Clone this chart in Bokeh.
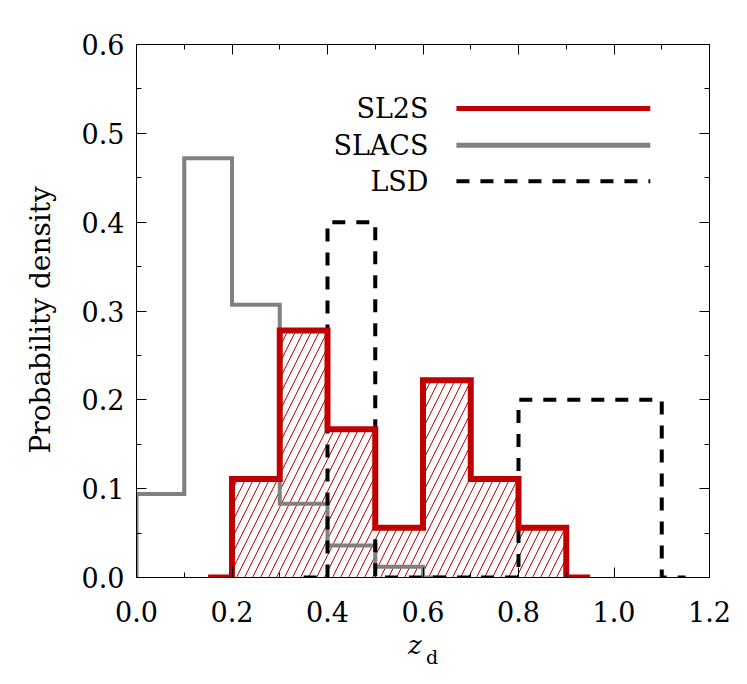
import numpy as np
from bokeh.plotting import figure
from bokeh.models import Label, LinearAxis, Range1d, FixedTicker, NumeralTickFormatter
from bokeh.embed import file_html
from bokeh.resources import INLINE

# ---------------- data ----------------
bin_width = 0.1
sl2s_start = 0.2
sl2s_density = [0.111, 0.278, 0.167, 0.056, 0.222, 0.111, 0.056]
slacs_start = 0.0
slacs_density = [0.094, 0.472, 0.307, 0.083, 0.036, 0.012]
lsd_start = 0.4
lsd_density = [0.4, 0.0, 0.0, 0.0, 0.2, 0.2, 0.2]

legend_names = ["SL2S", "SLACS", "LSD"]
x_ticks = [0.0, 0.2, 0.4, 0.6, 0.8, 1.0, 1.2]
y_ticks = [0.0, 0.1, 0.2, 0.3, 0.4, 0.5, 0.6]

# ---------------- styles ----------------
RED = "#c00000"
GREY = "#808080"
BLACK = "#000000"
FONT = "DejaVu Serif"
NBSP = "\u00a0"


def edges_of(start, dens, w=bin_width):
    return [start + i * w for i in range(len(dens) + 1)]


def step_path(start, dens, w=bin_width):
    e = edges_of(start, dens, w)
    xs = [start - w / 2, start]
    ys = [0.0, 0.0]
    for i, d in enumerate(dens):
        xs += [e[i], e[i + 1]]
        ys += [d, d]
    xs += [e[-1], e[-1] + w / 2]
    ys += [0.0, 0.0]
    return xs, ys


p = figure(width=747, height=684, x_range=Range1d(0, 1.2), y_range=Range1d(0, 0.6),
           output_backend="svg", toolbar_location=None,
           min_border_left=136, min_border_right=38, min_border_top=44, min_border_bottom=107,
           x_axis_location=None, y_axis_location=None)
p.background_fill_color = "white"
p.border_fill_color = "white"
p.outline_line_color = "black"
p.outline_line_width = 1
p.grid.visible = False


def make_axis(ticks, show_labels):
    step = (ticks[1] - ticks[0]) / 2
    minors = [round(ticks[0] + i * step, 3) for i in range(2 * (len(ticks) - 1) + 1)]
    ax = LinearAxis(ticker=FixedTicker(ticks=ticks, minor_ticks=minors))
    ax.axis_line_color = "black"
    ax.major_tick_in = 10
    ax.major_tick_out = 0
    ax.minor_tick_in = 5
    ax.minor_tick_out = 0
    ax.major_tick_line_color = "black"
    ax.minor_tick_line_color = "black"
    ax.major_label_text_font = FONT
    ax.major_label_text_color = "black"
    ax.major_label_text_font_size = "27px"
    if show_labels:
        ax.formatter = NumeralTickFormatter(format="0.0")
    else:
        ax.major_label_overrides = {t: "" for t in ticks}
    return ax


xb = make_axis(x_ticks, True)
xb.major_label_standoff = 23
xb.axis_label = "z" + NBSP * 2
xb.axis_label_text_font = FONT
xb.axis_label_text_font_size = "26px"
xb.axis_label_text_font_style = "italic"
xb.axis_label_text_color = "black"
xb.axis_label_standoff = 5

yl = make_axis(y_ticks, True)
yl.major_label_standoff = 12
yl.axis_label = "Probability density" + NBSP * 2
yl.axis_label_text_font = FONT
yl.axis_label_text_font_size = "28px"
yl.axis_label_text_font_style = "normal"
yl.axis_label_text_color = "black"
yl.axis_label_standoff = 22

xt = make_axis(x_ticks, False)
yr = make_axis(y_ticks, False)
p.add_layout(xb, "below")
p.add_layout(yl, "left")
p.add_layout(xt, "above")
p.add_layout(yr, "right")

# subscript "d" of the x-axis label, carried by a tick-less axis beneath
xsub = LinearAxis(ticker=FixedTicker(ticks=[]), axis_line_color=None,
                  major_tick_line_color=None, minor_tick_line_color=None)
xsub.axis_label = NBSP * 3 + "d"
xsub.axis_label_text_font = FONT
xsub.axis_label_text_font_size = "19px"
xsub.axis_label_text_font_style = "normal"
xsub.axis_label_text_color = "black"
xsub.axis_label_standoff = -17
p.add_layout(xsub, "below")

# hatched fill of SL2S
e = edges_of(sl2s_start, sl2s_density)
p.quad(left=e[:-1], right=e[1:], bottom=0, top=sl2s_density,
       fill_color=None, line_color=None,
       hatch_pattern="/", hatch_color=RED, hatch_scale=16, hatch_weight=1)

# step outlines
xs, ys = step_path(slacs_start, slacs_density)
p.line(xs, ys, line_color=GREY, line_width=4, line_join="miter")
xs, ys = step_path(lsd_start, lsd_density)
p.line(xs, ys, line_color=BLACK, line_width=4, line_dash="13 11", line_join="miter")
xs, ys = step_path(sl2s_start, sl2s_density)
p.line(xs, ys, line_color=RED, line_width=6, line_join="miter")

# legend (manual: label left, line right)
leg_y = [0.528, 0.4866, 0.446]
leg_text_x = 0.6115
leg_line_x = [0.670, 1.076]
leg_colors = [RED, GREY, BLACK]
leg_dash = ["solid", "solid", "13 11"]
leg_width = [5, 5, 4]
for name, yy, c, d, w in zip(legend_names, leg_y, leg_colors, leg_dash, leg_width):
    p.add_layout(Label(x=leg_text_x, y=yy, text=name, text_font=FONT, text_font_size="27px",
                       text_align="right", text_baseline="middle", text_color="black"))
    p.line(leg_line_x, [yy, yy], line_color=c, line_width=w, line_dash=d)

open("out.html", "w").write(file_html(p, INLINE))
